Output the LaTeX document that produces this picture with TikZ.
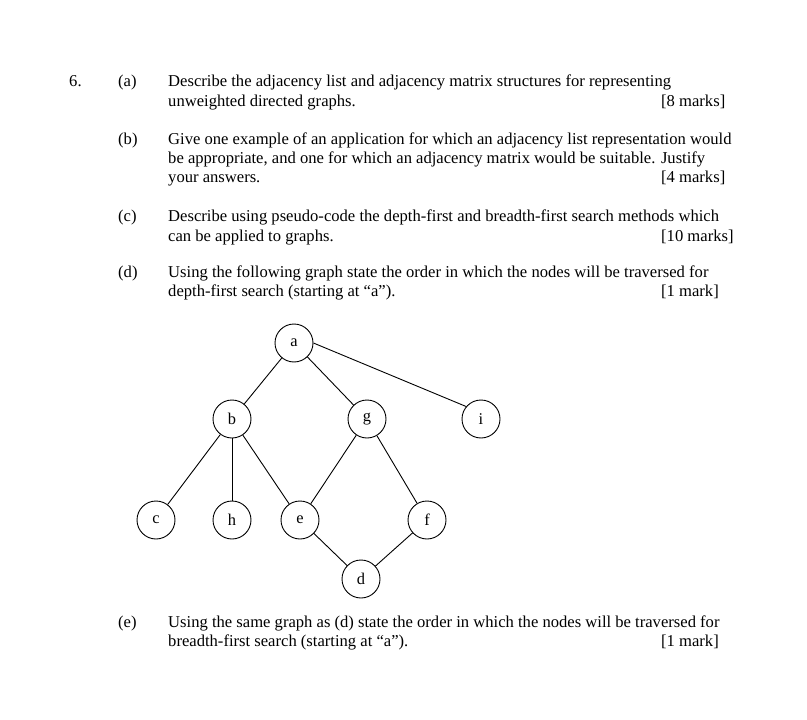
\documentclass[tikz,border=0pt]{standalone}
\usepackage{fontspec}
\setmainfont{Liberation Serif}[Ligatures=NoCommon]
\begin{document}
\begin{tikzpicture}[x=1pt,y=-1pt,
  txt/.style={anchor=base west,inner sep=0pt,font=\fontsize{16.6}{19.5}\selectfont},
  vtx/.style={draw,circle,line width=0.9pt,minimum size=38pt,inner sep=0pt,font=\fontsize{16.4}{19.5}\selectfont},
  edge/.style={line width=0.9pt}]
\useasboundingbox (0,0) rectangle (807,720);
% question number and parts
\node[txt] (q6) at (69,86) {6.};
\node[txt] (pa) at (118,86) {(a)};
\node[txt] (a1) at (168,86) {Describe the adjacency list and adjacency matrix structures for representing};
\node[txt] (a2) at (168,106) {unweighted directed graphs.};
\node[txt] (ma) at (661,106) {[8 marks]};
\node[txt] (pb) at (118,144) {(b)};
\node[txt] (b1) at (168,144) {Give one example of an application for which an adjacency list representation would};
\node[txt] (b2) at (168,163) {be appropriate, and one for which an adjacency matrix would be suitable. Justify};
\node[txt] (b3) at (168,182) {your answers.};
\node[txt] (mb) at (661,182) {[4 marks]};
\node[txt] (pc) at (118,221) {(c)};
\node[txt] (c1) at (168,221) {Describe using pseudo-code the depth-first and breadth-first search methods which};
\node[txt] (c2) at (168,241) {can be applied to graphs.};
\node[txt] (mc) at (661,241) {[10 marks]};
\node[txt] (pd) at (118,277) {(d)};
\node[txt] (d1) at (168,277) {Using the following graph state the order in which the nodes will be traversed for};
\node[txt] (d2) at (168,296) {depth-first search (starting at “a”).};
\node[txt] (md) at (661,296) {[1 mark]};
\node[txt] (pe) at (118,627) {(e)};
\node[txt] (e1) at (168,627) {Using the same graph as (d) state the order in which the nodes will be traversed for};
\node[txt] (e2) at (168,646) {breadth-first search (starting at “a”).};
\node[txt] (me) at (661,646) {[1 mark]};
% graph
\node[vtx] (a) at (294,343) {a};
\node[vtx] (b) at (232,419) {b};
\node[vtx] (g) at (367,419) {g};
\node[vtx] (i) at (481,419) {i};
\node[vtx] (c) at (156,520) {c};
\node[vtx] (h) at (232,520) {h};
\node[vtx] (e) at (300,520) {e};
\node[vtx] (f) at (427,520) {f};
\node[vtx] (d) at (361,579) {d};
\draw[edge] (a) -- (b);
\draw[edge] (a) -- (g);
\draw[edge] (a.east) -- (i.140);
\draw[edge] (b) -- (c);
\draw[edge] (b) -- (h);
\draw[edge] (b) -- (e);
\draw[edge] (g) -- (e);
\draw[edge] (g) -- (f);
\draw[edge] (e) -- (d);
\draw[edge] (f) -- (d);
\end{tikzpicture}
\end{document}
